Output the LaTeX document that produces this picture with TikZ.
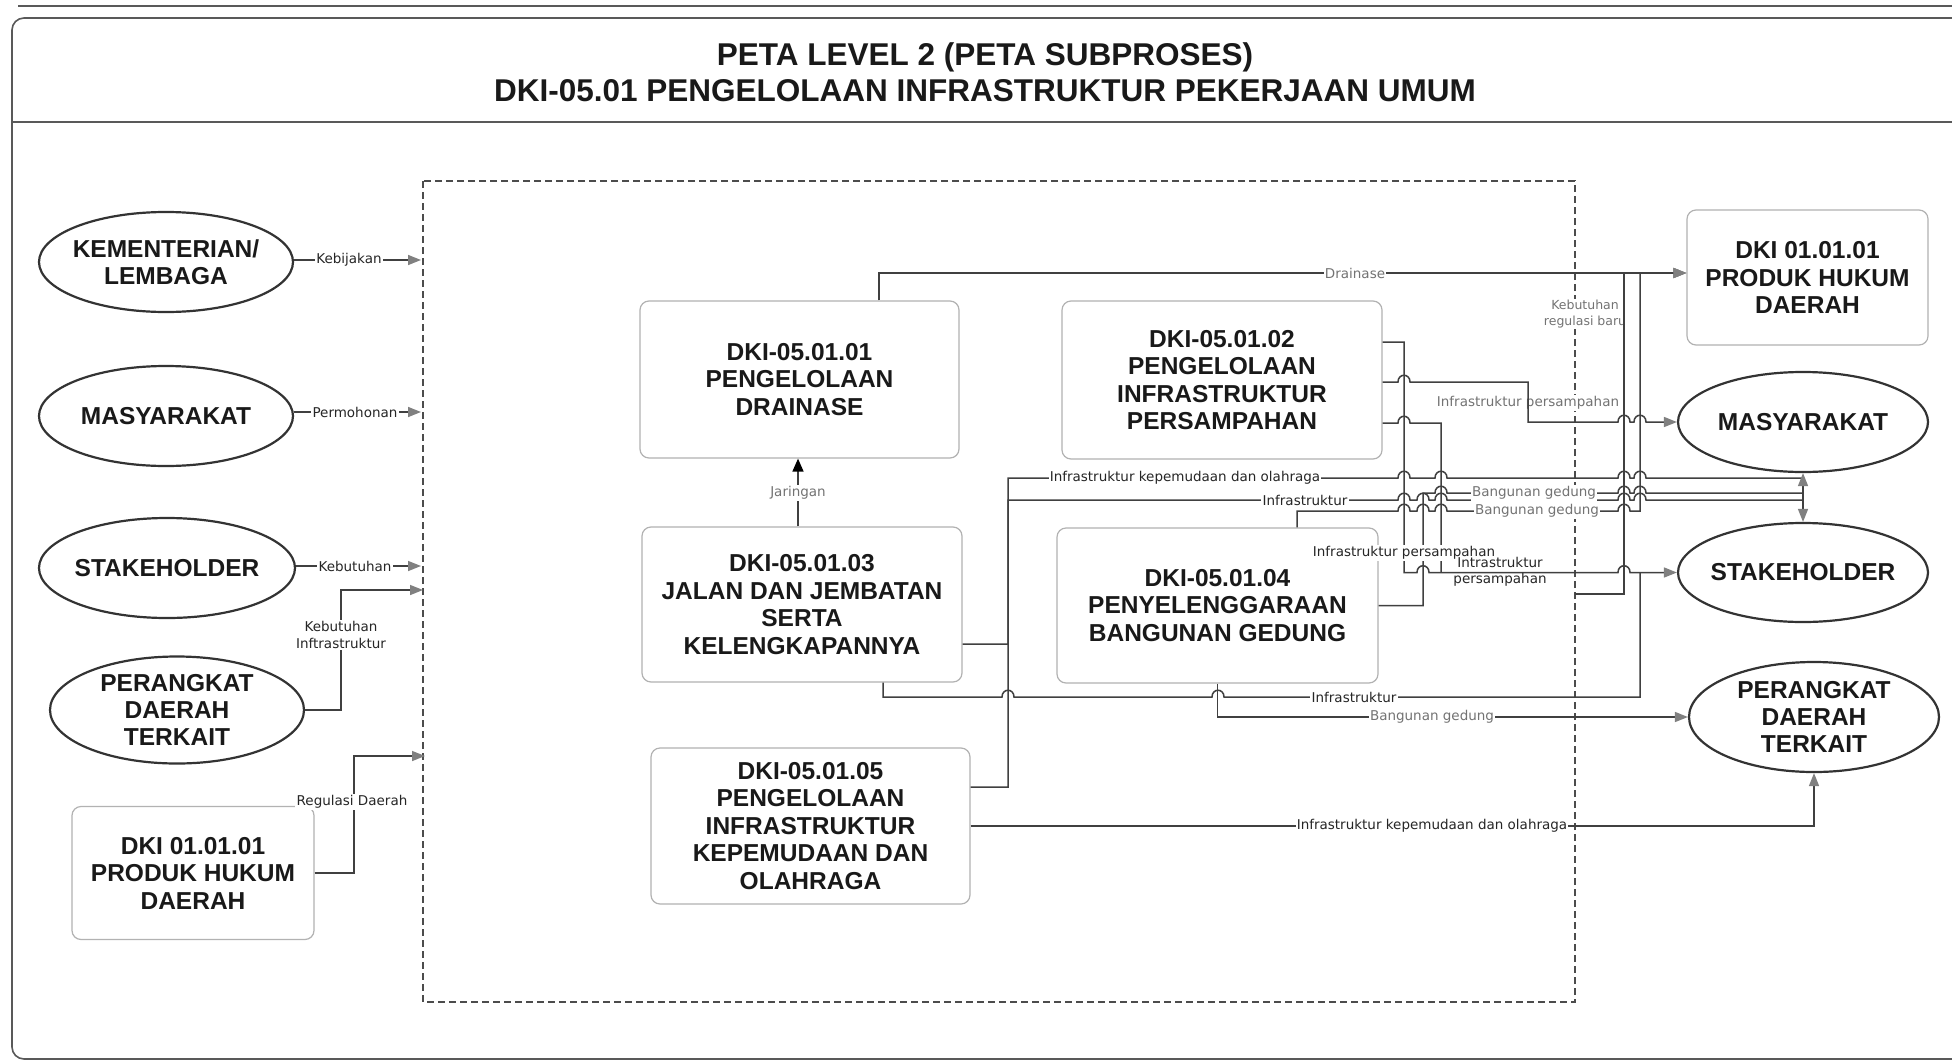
\documentclass[tikz,border=0pt]{standalone}
\usepackage{fontspec}
\setmainfont{Liberation Sans}
\newfontfamily\labfont{DejaVu Sans}
\usetikzlibrary{arrows.meta,shapes.geometric}
\tikzset{
  conn/.style={draw=black!75, line width=1.5pt},
  garrow/.style={-{Triangle[length=13pt,width=10pt,color=black!50]}},
  blkarrow/.style={-{Triangle[length=13pt,width=11pt,color=black]}},
  ell/.style={ellipse, draw=black!80, line width=2.2pt, inner sep=0pt, fill=white},
  etext/.style={font=\bfseries\fontsize{24.5}{27}\selectfont, align=center, text=black!90},
  pbox/.style={rounded corners=9pt, draw=black!30, line width=1.2pt, fill=white, align=center,
    font=\bfseries\fontsize{24.5}{27.5}\selectfont, text=black!90, inner sep=0pt},
  lab/.style={font=\labfont\fontsize{13.5}{16.5}\selectfont, text=black!85, fill=white, inner sep=1.2pt, align=center},
  glab/.style={lab, text=black!55},
  hopx/.style args={#1,#2}{insert path={-- (#1-6,#2) .. controls (#1-6,#2-9) and (#1+6,#2-9) .. (#1+6,#2)}},
  framel/.style={draw=black!65, line width=1.6pt},
}
\begin{document}
\begin{tikzpicture}[x=1pt,y=-1pt]
\useasboundingbox (0,0) rectangle (1952,1063);
\clip (0,0) rectangle (1952,1063);
\fill[white] (0,0) rectangle (1952,1063);

% frame
\draw[framel, line width=1.2pt] (18,6) -- (1960,6);
\draw[framel, rounded corners=12pt] (1970,18) -- (12,18) -- (12,1059) -- (1970,1059);
\draw[framel] (12,122) -- (1960,122);

% title
\node[font=\bfseries\fontsize{31.5}{36}\selectfont, align=center, text=black!90] (title) at (985,72)
  {PETA LEVEL 2 (PETA SUBPROSES)\\DKI-05.01 PENGELOLAAN INFRASTRUKTUR PEKERJAAN UMUM};

% dashed process boundary
\draw[black!70, line width=1.2pt, dash pattern=on 7pt off 4pt] (423,181) rectangle (1575,1002);

% left actors
\node[ell, minimum width=254pt, minimum height=100pt] (lkm) at (166,262) {};
\node[etext] (lkmt) at (lkm) {KEMENTERIAN/\\LEMBAGA};
\node[ell, minimum width=254pt, minimum height=100pt] (lms) at (166,416) {};
\node[etext] (lmst) at (lms) {MASYARAKAT};
\node[ell, minimum width=256pt, minimum height=100pt] (lsh) at (167,568) {};
\node[etext] (lsht) at (lsh) {STAKEHOLDER};
\node[ell, minimum width=254pt, minimum height=107pt] (lpd) at (177,710) {};
\node[etext] (lpdt) at (lpd) {PERANGKAT\\DAERAH\\TERKAIT};
\node[pbox, minimum width=242pt, minimum height=133pt] (lph) at (193,873) {DKI 01.01.01\\PRODUK HUKUM\\DAERAH};

% sub-processes
\node[pbox, minimum width=319pt, minimum height=157pt] (b01) at (799.5,379.5) {DKI-05.01.01\\PENGELOLAAN\\DRAINASE};
\node[pbox, minimum width=320pt, minimum height=158pt] (b02) at (1222,380) {DKI-05.01.02\\PENGELOLAAN\\INFRASTRUKTUR\\PERSAMPAHAN};
\node[pbox, minimum width=320pt, minimum height=155pt] (b03) at (802,604.5) {DKI-05.01.03\\JALAN DAN JEMBATAN\\SERTA\\KELENGKAPANNYA};
\node[pbox, minimum width=321pt, minimum height=155pt] (b04) at (1217.5,605.5) {DKI-05.01.04\\PENYELENGGARAAN\\BANGUNAN GEDUNG};
\node[pbox, minimum width=319pt, minimum height=156pt] (b05) at (810.5,826) {DKI-05.01.05\\PENGELOLAAN\\INFRASTRUKTUR\\KEPEMUDAAN DAN\\OLAHRAGA};

% right actors
\node[pbox, minimum width=241pt, minimum height=135pt] (rph) at (1807.5,277.5) {DKI 01.01.01\\PRODUK HUKUM\\DAERAH};
\node[ell, minimum width=250pt, minimum height=100pt] (rms) at (1803,422) {};
\node[etext] (rmst) at (rms) {MASYARAKAT};
\node[ell, minimum width=250pt, minimum height=99pt] (rsh) at (1803,572.5) {};
\node[etext] (rsht) at (rsh) {STAKEHOLDER};
\node[ell, minimum width=250pt, minimum height=110pt] (rpd) at (1814,717) {};
\node[etext] (rpdt) at (rpd) {PERANGKAT\\DAERAH\\TERKAIT};

% boundary points
\coordinate (inA) at (421,260);
\coordinate (inB) at (421,412);
\coordinate (inC) at (421,566);
\coordinate (inD) at (423,590);
\coordinate (inE) at (425,756);
\coordinate (outReg) at (1575,594);
\coordinate (jn) at (1803,490);

% labels the lines show through
\node[glab, font=\labfont\fontsize{12.5}{16}\selectfont] (lRegBaru) at (1585,314) {Kebutuhan\\regulasi baru};
\node[glab] (lPers1) at (1528,403) {Infrastruktur persampahan};

% left inputs
\draw[conn,garrow] (lkm.east |- inA) -- (inA);
\draw[conn,garrow] (lms.east |- inB) -- (inB);
\draw[conn,garrow] (lsh.east |- inC) -- (inC);
\draw[conn,garrow] (lpd.east) -- (341,710) -- (341,590) -- (inD);
\draw[conn,garrow] (lph.east) -- (354,873) -- (354,756) -- (inE);

% inner connectors
\draw[conn,garrow] ([xshift=79.5pt]b01.north) -- (879,273) -- ([yshift=4.5pt]rph.west);
\draw[conn,blkarrow] ([xshift=-4pt]b03.north) -- ([xshift=-1.5pt]b01.south);
\draw[conn,garrow] (outReg) -- (1624,594) -- (1624,273) -- ([yshift=4.5pt]rph.west);

\draw[conn,garrow] ([yshift=38pt]b02.east) -- (1404,342) -- (1404,572.5) [hopx={1423,572.5}] [hopx={1624,572.5}] -- (rsh.west);
\draw[conn] ([yshift=-43pt]b02.east) [hopx={1404,423}] -- (1441,423) -- (1441,572.5);
\draw[conn,garrow] ([yshift=-2pt]b02.east) [hopx={1404,382}] -- (1528,382) -- (1528,422) [hopx={1624,422}] [hopx={1640,422}] -- (rms.west);

\draw[conn] ([yshift=39pt]b05.east) -- (1008,787) -- (1008,478) [hopx={1404,478}] [hopx={1441,478}] [hopx={1624,478}] [hopx={1640,478}] -- (1803,478);
\draw[conn] ([yshift=-39.5pt]b03.east) -- (1008,644) -- (1008,500) [hopx={1404,500}] [hopx={1423,500}] [hopx={1441,500}] [hopx={1624,500}] [hopx={1640,500}] -- (1803,500);
\draw[conn] (b04.east) -- (1423,605.5) -- (1423,493) [hopx={1441,493}] [hopx={1624,493}] [hopx={1640,493}] -- (1803,493);
\draw[conn,garrow] ([xshift=79.5pt]b04.north) -- (1297,511) [hopx={1404,511}] [hopx={1423,511}] [hopx={1441,511}] [hopx={1624,511}] -- (1640,511) -- (1640,273) -- ([yshift=4.5pt]rph.west);
\draw[conn,garrow] (jn) -- (rms.south);
\draw[conn,garrow] (jn) -- (rsh.north);

\draw[conn] ([xshift=81pt]b03.south) -- (883,697) [hopx={1008,697}] [hopx={1218,697}] -- (1640,697) -- (1640,572.5);
\draw[conn,garrow] (b04.south) -- (1217.5,717) -- (rpd.west);
\draw[conn,garrow] (b05.east) -- (1814,826) -- (rpd.south);

% labels on lines
\node[lab] (lKeb) at (349,260) {Kebijakan};
\node[lab] (lPerm) at (355,412) {Permohonan};
\node[lab] (lKebu) at (355,566) {Kebutuhan};
\node[lab] (lKebI) at (341,635) {Kebutuhan\\Inftrastruktur};
\node[lab] (lReg) at (352,802) {Regulasi Daerah};
\node[glab] (lDrain) at (1355,273) {Drainase};
\node[glab] (lJar) at (798,493) {Jaringan};
\node[lab] (lKep1) at (1185,478) {Infrastruktur kepemudaan dan olahraga};
\node[lab] (lInf1) at (1305,500) {Infrastruktur};
\node[glab] (lBg1) at (1534,493) {Bangunan gedung};
\node[glab] (lBg2) at (1537,511) {Bangunan gedung};
\node[lab] (lPers2) at (1404,553) {Infrastruktur persampahan};
\node[lab, fill=none] (lPers3) at (1500,572) {Intrastruktur\\persampahan};
\node[lab] (lInf2) at (1354,697) {Infrastruktur};
\node[glab] (lBg3) at (1432,717) {Bangunan gedung};
\node[lab] (lKep2) at (1432,826) {Infrastruktur kepemudaan dan olahraga};
\end{tikzpicture}
\end{document}
